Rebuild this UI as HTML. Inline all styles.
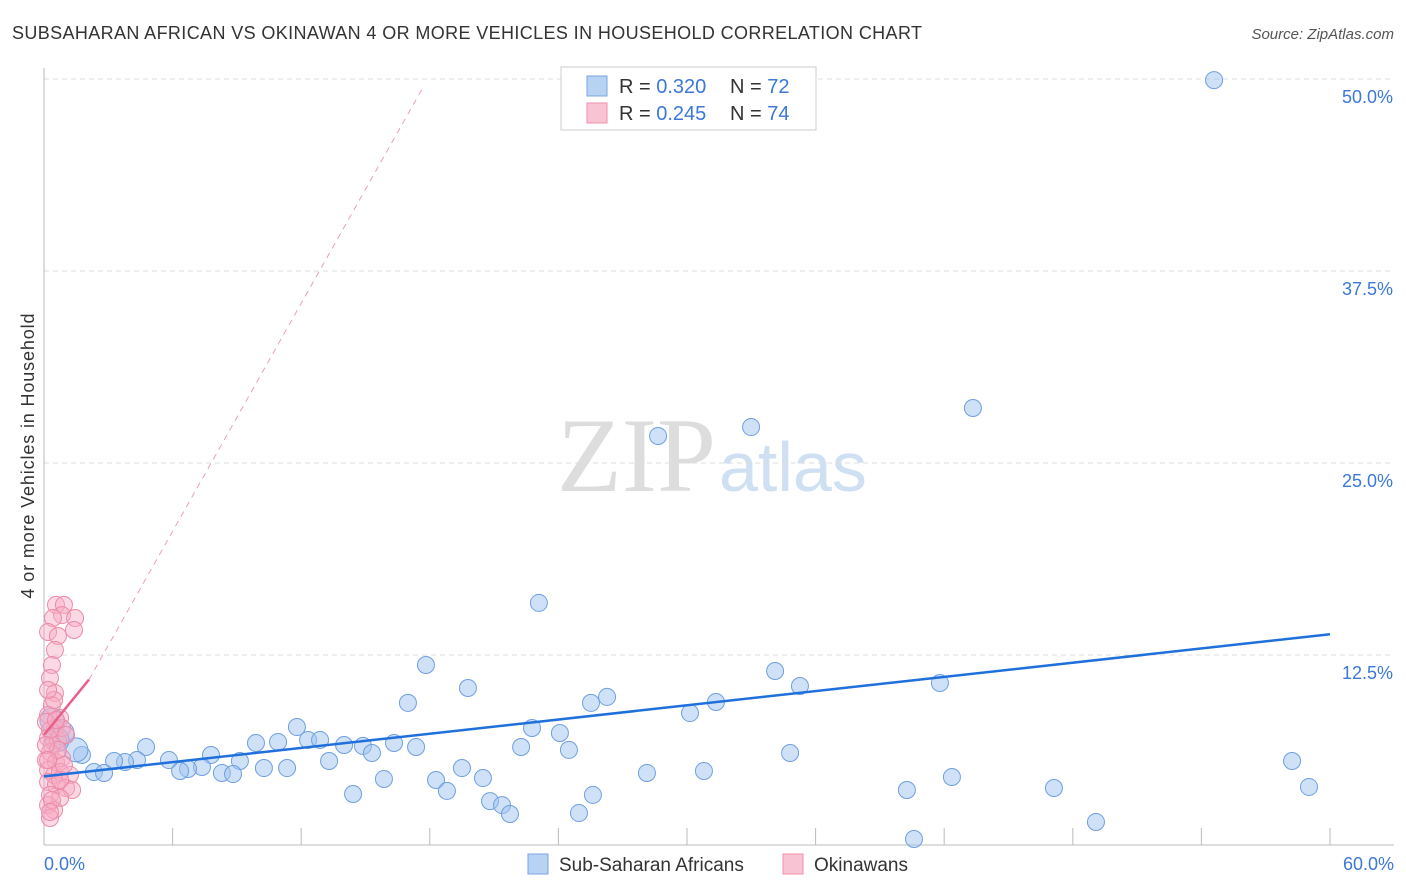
<!DOCTYPE html>
<html><head><meta charset="utf-8"><style>
body{margin:0;background:#fff;font-family:"Liberation Sans",sans-serif}
svg{display:block}
</style></head><body>
<svg id="chart" width="1406" height="892">
<text x="12" y="39" font-size="18" fill="#333" textLength="910">SUBSAHARAN AFRICAN VS OKINAWAN 4 OR MORE VEHICLES IN HOUSEHOLD CORRELATION CHART</text>
<text x="1394" y="39" font-size="15" fill="#555" font-style="italic" text-anchor="end">Source: ZipAtlas.com</text>
<text x="716" y="491" font-size="106" fill="#ddd" text-anchor="end" font-family="Liberation Serif">ZIP</text>
<text x="719" y="491" font-size="70" fill="#cfe0f3">atlas</text>
<g id="grid"></g>
<line x1="44" y1="68" x2="44" y2="845" stroke="#bbb"/>
<line x1="44" y1="845" x2="1394" y2="845" stroke="#bbb"/>
<text transform="translate(34,456) rotate(-90)" font-size="18" fill="#333" text-anchor="middle" textLength="285">4 or more Vehicles in Household</text>
<text x="44" y="870" font-size="18" fill="#3b78d8">0.0%</text>
<text x="1394" y="870" font-size="18" fill="#3b78d8" text-anchor="end">60.0%</text>
<g id="marks"></g>
<g>
<rect x="561" y="67" width="255" height="63" fill="#fff" stroke="#ccc"/>
<rect x="587" y="76" width="20" height="20" fill="#b7d2f2" stroke="#7aa7e0"/>
<rect x="587" y="103" width="20" height="20" fill="#f8c3d2" stroke="#ee8fab"/>
<text x="619" y="93" font-size="20" fill="#333">R = <tspan fill="#3b78d8">0.320</tspan></text>
<text x="730" y="93" font-size="20" fill="#333">N = <tspan fill="#3b78d8">72</tspan></text>
<text x="619" y="120" font-size="20" fill="#333">R = <tspan fill="#3b78d8">0.245</tspan></text>
<text x="730" y="120" font-size="20" fill="#333">N = <tspan fill="#3b78d8">74</tspan></text>
</g>
<g>
<rect x="528" y="854" width="20" height="20" fill="#b7d2f2" stroke="#7aa7e0"/>
<text x="559" y="871" font-size="19" fill="#333">Sub-Saharan Africans</text>
<rect x="783" y="854" width="20" height="20" fill="#f8c3d2" stroke="#ee8fab"/>
<text x="814" y="871" font-size="19" fill="#333">Okinawans</text>
</g>
</svg>
<script>
const yTicks=[12.5,25,37.5,50];
const xTicks=[0,6,12,18,24,30,36,42,48,54,60];
const bluePx=[[1214,80],[973,408],[751,427],[658,436],[539,603],[426,665],[468,688],[408,703],[607,697],[591,703],[775,671],[800,686],[940,683],[716,702],[690,713],[297,727],[532,728],[560,733],[308,740],[320,740],[256,743],[278,742],[344,745],[363,746],[394,743],[416,747],[521,747],[569,750],[372,753],[146,747],[211,755],[329,761],[240,761],[169,760],[137,760],[125,762],[114,761],[82,755],[76,750],[62,733],[52,720],[264,768],[287,768],[202,767],[188,769],[180,771],[222,773],[233,774],[94,772],[104,773],[462,768],[483,778],[384,779],[436,780],[447,791],[353,794],[490,801],[502,805],[510,814],[593,795],[579,813],[647,773],[704,771],[790,753],[952,777],[907,790],[1054,788],[1096,822],[914,839],[1292,761],[1309,787],[57,740]];
const pinkPx=[[56,605],[64,605],[62,615],[53,618],[75,618],[48,632],[74,630],[58,636],[55,650],[52,665],[50,678],[55,693],[52,705],[48,715],[60,718],[55,728],[48,738],[52,745],[58,740],[50,752],[46,760],[56,762],[62,758],[48,770],[54,775],[60,772],[70,775],[48,782],[56,785],[66,788],[72,790],[50,795],[60,798],[48,805],[54,810],[50,818],[62,728],[66,735],[58,750],[50,730],[46,722],[54,700],[48,690],[60,780],[52,800],[46,745],[64,765],[50,812],[56,720],[48,760]];
const blueX=bluePx.map(p=>+((p[0]-44)/1286*60).toFixed(2));
const blueY=bluePx.map(p=>+((847-p[1])/192*12.5).toFixed(2));
const pinkX=pinkPx.map(p=>+((p[0]-44)/1286*60).toFixed(2));
const pinkY=pinkPx.map(p=>+((847-p[1])/192*12.5).toFixed(2));
const blueTrend=[[0,4.6],[60,13.85]];
const pinkTrend=[[0,7.3],[2.1,10.9]];
const pinkDash=[[2.1,10.9],[17.7,49.5]];
const X=v=>44+v/60*1286, Y=v=>847-v/12.5*192;
const NS="http://www.w3.org/2000/svg";
const g=document.getElementById('grid'), m=document.getElementById('marks');
function mk(tag,attrs,parent){const e=document.createElementNS(NS,tag);for(const k in attrs)e.setAttribute(k,attrs[k]);parent.appendChild(e);return e;}
yTicks.forEach(t=>{
 const l=mk('line',{x1:44,x2:1394,y1:Y(t),y2:Y(t),stroke:'#ddd','stroke-dasharray':'5,4'},g);
 
 
 const tx=mk('text',{x:1393,y:Y(t)+24,'font-size':18,fill:'#3b78d8','text-anchor':'end'},g);
 tx.textContent=t.toFixed(1)+'%';
 
 
});
xTicks.forEach(t=>{
 const l=mk('line',{x1:X(t),x2:X(t),y1:828,y2:845,stroke:'#bbb'},g);
 
 
});
blueX.forEach((x,i)=>{
 const r=(x<1.5)?12:8.5;
 const c=mk('circle',{cx:X(x),cy:Y(blueY[i]),r:r,fill:'rgba(160,196,240,0.5)',stroke:'#6f9fe0','stroke-width':1},m);
 
 
});
pinkX.forEach((x,i)=>{
 const c=mk('circle',{cx:X(x),cy:Y(pinkY[i]),r:8.5,fill:'rgba(246,170,195,0.45)',stroke:'#ec8aa8','stroke-width':1},m);
 
 
});
let l=mk('line',{x1:X(blueTrend[0][0]),y1:Y(blueTrend[0][1]),x2:X(blueTrend[1][0]),y2:Y(blueTrend[1][1]),stroke:'#1f6fdc','stroke-width':2.5},m);


l=mk('line',{x1:X(pinkTrend[0][0]),y1:Y(pinkTrend[0][1]),x2:X(pinkTrend[1][0]),y2:Y(pinkTrend[1][1]),stroke:'#e8608a','stroke-width':2.5},m);


l=mk('line',{x1:X(pinkDash[0][0]),y1:Y(pinkDash[0][1]),x2:X(pinkDash[1][0]),y2:Y(pinkDash[1][1]),stroke:'#eaa0b8','stroke-width':1,'stroke-dasharray':'6,5'},m);


</script>
</body></html>
